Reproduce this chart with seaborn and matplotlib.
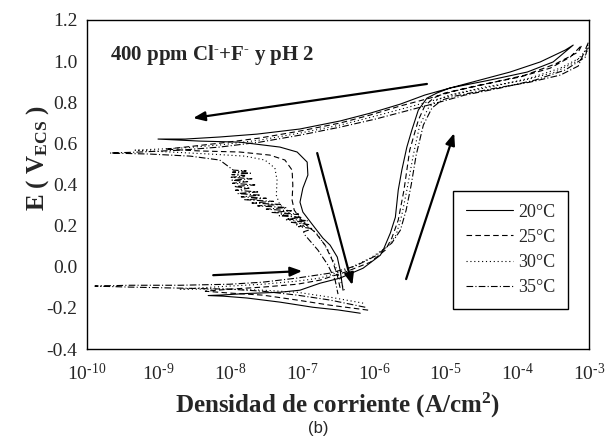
import numpy as np
import pandas as pd
import matplotlib
matplotlib.use("Agg")
import matplotlib.pyplot as plt
import seaborn as sns
from matplotlib.lines import Line2D
from matplotlib.ticker import FixedLocator, FixedFormatter, MultipleLocator

sns.set_style("white")
plt.rcParams["font.family"] = ["Liberation Serif", "DejaVu Serif"]
plt.rcParams["mathtext.fontset"] = "custom"
plt.rcParams["mathtext.rm"] = "Liberation Serif"
plt.rcParams["mathtext.bf"] = "Liberation Serif:bold"
plt.rcParams["mathtext.it"] = "Liberation Serif:italic"
plt.rcParams["mathtext.default"] = "regular"
plt.rcParams["axes.unicode_minus"] = False

# ---------------- data (log10 of current density in A/cm2, potential in V vs SCE) -------------
temps = ["20°C", "25°C", "30°C", "35°C"]

logi_20 = [-6.19, -6.50, -6.85, -7.31, -7.77, -8.10, -8.31,
           -8.10, -7.77, -7.31, -7.03, -6.75, -6.47, -6.15, -5.91,
           -5.87, -5.77, -5.70, -5.66, -5.61, -5.54, -5.47, -5.38, -5.26, -5.12, -4.94, -4.38, -3.86, -3.50, -3.22,
           -3.33, -3.68, -4.10, -4.52, -4.94, -5.29, -5.63, -6.05, -6.47, -7.03, -7.63, -8.15, -8.63, -9.01,
           -8.42, -7.87, -7.31, -7.07, -6.93, -6.92, -6.99, -7.03, -6.99, -6.85, -6.71, -6.61, -6.51, -6.47, -6.43]
E_20 = [-0.226, -0.210, -0.197, -0.172, -0.152, -0.143, -0.140,
        -0.137, -0.130, -0.124, -0.114, -0.080, -0.055, -0.007, 0.056,
        0.081, 0.164, 0.241, 0.373, 0.470, 0.582, 0.665, 0.762, 0.820, 0.845, 0.869, 0.908, 0.947, 0.996, 1.078,
        1.054, 0.996, 0.947, 0.908, 0.869, 0.835, 0.791, 0.747, 0.709, 0.670, 0.645, 0.631, 0.621, 0.621,
        0.611, 0.606, 0.582, 0.558, 0.509, 0.446, 0.382, 0.314, 0.266, 0.202, 0.139, 0.105, 0.047, -0.017, -0.114]

logi_25 = [-6.08, -6.61, -7.07, -7.55, -8.01, -8.35,
           -8.01, -7.55, -7.07, -6.75, -6.40, -6.05, -5.84,
           -5.75, -5.66, -5.58, -5.50, -5.38, -5.29, -5.17, -5.01, -4.52, -3.96, -3.54, -3.26, -3.10,
           -3.15, -3.47, -3.89, -4.38, -4.87, -5.22, -5.63, -6.05, -6.47, -7.03, -7.59, -8.15, -8.63, -8.91,
           -8.42, -7.87, -7.45, -7.24, -7.14, -7.13, -7.14, -7.11, -6.99, -6.82, -6.68, -6.58, -6.51, -6.47]
E_25 = [-0.211, -0.187, -0.162, -0.138, -0.128, -0.119,
        -0.109, -0.099, -0.085, -0.065, -0.026, 0.022, 0.081,
        0.139, 0.227, 0.373, 0.567, 0.713, 0.782, 0.820, 0.845, 0.884, 0.923, 0.966, 1.020, 1.078,
        1.044, 0.986, 0.932, 0.893, 0.855, 0.820, 0.782, 0.738, 0.699, 0.660, 0.626, 0.601, 0.582, 0.572,
        0.563, 0.558, 0.543, 0.519, 0.470, 0.397, 0.324, 0.275, 0.217, 0.168, 0.105, 0.032, -0.041, -0.104]

logi_30 = [-6.15, -6.61, -7.07, -7.55, -8.01, -8.70,
           -8.01, -7.55, -7.07, -6.75, -6.40, -6.05, -5.80,
           -5.69, -5.61, -5.54, -5.45, -5.36, -5.24, -5.12, -4.94, -4.45, -3.89, -3.47, -3.19, -3.01,
           -3.05, -3.40, -3.82, -4.31, -4.80, -5.15, -5.56, -6.03, -6.47, -7.03, -7.59, -8.15, -8.70, -9.33,
           -8.84, -8.28, -7.80, -7.52, -7.38, -7.35, -7.36, -7.31, -7.17, -7.30, -7.05, -7.22, -6.96,
           -7.10, -6.88, -6.78, -6.64, -6.54, -6.47, -6.40]
E_30 = [-0.177, -0.148, -0.124, -0.114, -0.109, -0.109,
        -0.094, -0.085, -0.070, -0.055, -0.017, 0.042, 0.100,
        0.154, 0.251, 0.373, 0.543, 0.689, 0.772, 0.811, 0.835, 0.874, 0.908, 0.947, 0.996, 1.064,
        1.030, 0.966, 0.918, 0.879, 0.845, 0.811, 0.772, 0.728, 0.689, 0.650, 0.616, 0.592, 0.577, 0.567,
        0.558, 0.548, 0.538, 0.519, 0.480, 0.421, 0.348, 0.300, 0.266, 0.255, 0.240, 0.228, 0.217,
        0.205, 0.190, 0.154, 0.081, 0.008, -0.065, -0.124]

logi_35 = [-6.12, -6.61, -7.07, -7.55, -8.01, -8.70, -9.40, -9.89,
           -9.40, -8.70, -8.01, -7.55, -7.07, -6.61, -6.26, -5.98, -5.75,
           -5.63, -5.55, -5.48, -5.41, -5.31, -5.19, -5.05, -4.87, -4.38, -3.82, -3.40, -3.15, -3.01,
           -3.05, -3.33, -3.75, -4.24, -4.73, -5.08, -5.50, -5.98, -6.47, -7.03, -7.59, -8.15, -8.70, -9.26, -9.68,
           -9.12, -8.56, -8.15, -7.96,
           -7.78, -7.97, -7.72, -7.98, -7.80, -7.99, -7.70, -7.98, -7.76, -7.97, -7.66, -7.95, -7.74, -7.93,
           -7.62, -7.90, -7.58, -7.85, -7.50, -7.80, -7.40, -7.70, -7.30, -7.62, -7.22, -7.50, -7.15, -7.42,
           -7.05, -7.32, -7.00, -7.22, -6.92, -7.15, -6.90, -7.05, -6.85, -6.98,
           -6.96, -6.78, -6.64, -6.54, -6.50]
E_35 = [-0.197, -0.162, -0.138, -0.119, -0.109, -0.104, -0.099, -0.094,
        -0.090, -0.090, -0.085, -0.075, -0.055, -0.031, 0.003, 0.052, 0.115,
        0.178, 0.275, 0.397, 0.543, 0.689, 0.772, 0.811, 0.830, 0.864, 0.898, 0.932, 0.976, 1.090,
        1.020, 0.957, 0.908, 0.869, 0.835, 0.801, 0.762, 0.718, 0.679, 0.640, 0.606, 0.582, 0.567, 0.558, 0.553,
        0.548, 0.538, 0.519, 0.470,
        0.466, 0.460, 0.455, 0.448, 0.442, 0.435, 0.428, 0.421, 0.414, 0.406, 0.398, 0.390, 0.382, 0.372,
        0.364, 0.356, 0.348, 0.340, 0.333, 0.326, 0.318, 0.310, 0.303, 0.296, 0.288, 0.280, 0.272, 0.264,
        0.256, 0.248, 0.240, 0.232, 0.224, 0.216, 0.205, 0.195, 0.185, 0.170,
        0.154, 0.081, 0.008, -0.065, -0.133]

xtick_exp = [-10, -9, -8, -7, -6, -5, -4, -3]
xtick_labels = ["$10^{\u201010}$", "$10^{\u20109}$", "$10^{\u20108}$", "$10^{\u20107}$",
                "$10^{\u20106}$", "$10^{\u20105}$", "$10^{\u20104}$", "$10^{\u20103}$"]
ytick_vals = [-0.4, -0.2, 0.0, 0.2, 0.4, 0.6, 0.8, 1.0, 1.2]
ytick_labels = ["-0.4", "-0.2", "0.0", "0.2", "0.4", "0.6", "0.8", "1.0", "1.2"]

# arrows: (log i tail, E tail, log i head, E head)
arrow_tail_logi = [-5.26, -6.79, -8.24, -5.55]
arrow_tail_E = [0.889, 0.553, -0.041, -0.060]
arrow_head_logi = [-8.52, -6.30, -7.00, -4.88]
arrow_head_E = [0.723, -0.089, -0.021, 0.650]

# ---------------- build table ----------------
frames = []
for t, li, e in zip(temps, [logi_20, logi_25, logi_30, logi_35], [E_20, E_25, E_30, E_35]):
    frames.append(pd.DataFrame({"i": np.power(10.0, li), "E": e, "T": t}))
df = pd.concat(frames, ignore_index=True)

dash_map = {"20°C": "", "25°C": (5, 3), "30°C": (1, 2.5), "35°C": (6, 2, 1, 2)}

fig = plt.figure(figsize=(6.08, 4.41), dpi=100)
ax = fig.add_axes([87 / 608, 1 - 349 / 441, (589 - 87) / 608, (349 - 20) / 441])

sns.lineplot(data=df, x="i", y="E", hue="T", style="T", palette=["black"] * 4,
             dashes=dash_map, sort=False, estimator=None, lw=0.8, legend=False, ax=ax)

ax.set_xscale("log")
ax.set_xlim(1e-10, 1e-3)
ax.set_ylim(-0.4, 1.2)

ax.xaxis.set_major_locator(FixedLocator([10.0 ** k for k in xtick_exp]))
ax.xaxis.set_major_formatter(FixedFormatter(xtick_labels))
minors = [m * 10.0 ** k for k in xtick_exp[:-1] for m in range(2, 10)]
ax.xaxis.set_minor_locator(FixedLocator(minors))
ax.yaxis.set_major_locator(FixedLocator(ytick_vals))
ax.yaxis.set_major_formatter(FixedFormatter(ytick_labels))
ax.yaxis.set_minor_locator(MultipleLocator(0.1))

ax.tick_params(axis="x", which="major", direction="in", length=6, width=0.9, labelsize=14, pad=10)
ax.tick_params(axis="x", which="minor", direction="in", length=3, width=0.8)
ax.tick_params(axis="y", which="major", direction="out", length=5, width=0.9, labelsize=14, pad=2)
ax.tick_params(axis="y", which="minor", direction="in", length=4, width=0.8)
ax.tick_params(top=False, right=False)
for s in ax.spines.values():
    s.set_visible(True)
    s.set_color("black")
    s.set_linewidth(1.0)

ax.set_xlabel("")
ax.set_ylabel("")

for tl, te, hl, he in zip(arrow_tail_logi, arrow_tail_E, arrow_head_logi, arrow_head_E):
    ax.annotate("", xy=(10 ** hl, he), xytext=(10 ** tl, te),
                arrowprops=dict(arrowstyle="-|>,head_length=0.5,head_width=0.2", lw=1.6,
                                color="black", mutation_scale=14, shrinkA=0, shrinkB=0))

ax.text(10 ** -9.68, 1.03, "400 ppm Cl$^{\u2010}$+F$^{\u2010}$ y pH 2", fontsize=15,
        fontweight="bold", va="center", ha="left")

handles = [Line2D([], [], color="black", lw=0.8, linestyle="-"),
           Line2D([], [], color="black", lw=0.8, dashes=dash_map["25°C"]),
           Line2D([], [], color="black", lw=0.8, dashes=dash_map["30°C"]),
           Line2D([], [], color="black", lw=0.8, dashes=dash_map["35°C"])]
leg = ax.legend(handles, temps, loc="upper left", bbox_to_anchor=((453 - 87) / 502, (349 - 191) / 329),
                fontsize=13, frameon=True, fancybox=False, edgecolor="black", framealpha=1,
                handlelength=2.6, handletextpad=0.3, labelspacing=0.45, borderpad=0.7, borderaxespad=0)
leg.get_frame().set_linewidth(1.0)

fig.text(38 / 608, 1 - 158 / 441, r"E ( V$_{ECS}$ )", rotation=90, fontsize=18,
         fontweight="bold", ha="center", va="center")
fig.text(337 / 608, 1 - 405 / 441, r"Densidad de corriente (A/cm$^{2}$)", fontsize=18,
         fontweight="bold", ha="center", va="center")
fig.text(318 / 608, 1 - 428 / 441, "(b)", fontsize=12, ha="center", va="center",
         family=["Liberation Sans", "DejaVu Sans"])

fig.savefig("out.png", dpi=100)
